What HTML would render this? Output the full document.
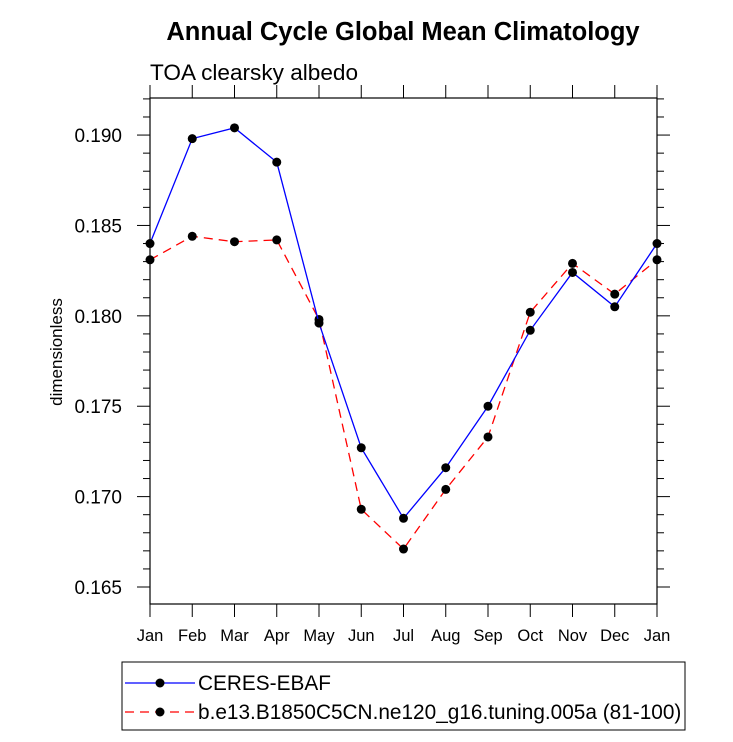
<!DOCTYPE html>
<html><head><meta charset="utf-8"><style>
body{margin:0;background:#fff;}
svg text{font-family:"Liberation Sans",Arial,sans-serif;}
</style></head><body>
<svg id="chart" width="733" height="737" viewBox="0 0 733 737">
<text x="403" y="40" font-size="25.5" font-weight="bold" text-anchor="middle">Annual Cycle Global Mean Climatology</text>
<text x="150" y="80" font-size="22.6">TOA clearsky albedo</text>
<text transform="translate(62,352) rotate(-90)" font-size="17" text-anchor="middle">dimensionless</text>
<g id="axes"></g>
<g id="series"></g>
<g>
<rect x="122" y="662" width="563" height="68" fill="none" stroke="#000" stroke-width="1"/>
<line x1="125" y1="683" x2="195" y2="683" stroke="#0000ff" stroke-width="1.3"/>
<circle cx="160" cy="683" r="4.5" fill="#000"/>
<text x="198" y="690" font-size="20.8">CERES-EBAF</text>
<line x1="125" y1="712" x2="195" y2="712" stroke="#ff0000" stroke-width="1.3" stroke-dasharray="9,6"/>
<circle cx="160" cy="712" r="4.5" fill="#000"/>
<text x="198" y="719" font-size="20.8">b.e13.B1850C5CN.ne120_g16.tuning.005a (81-100)</text>
</g>
</svg>
<script>
const months=["Jan","Feb","Mar","Apr","May","Jun","Jul","Aug","Sep","Oct","Nov","Dec","Jan"];
const ceres=[0.1840,0.1898,0.1904,0.1885,0.1796,0.1727,0.1688,0.1716,0.1750,0.1792,0.1824,0.1805,0.1840];
const model=[0.1831,0.1844,0.1841,0.1842,0.1798,0.1693,0.1671,0.1704,0.1733,0.1802,0.1829,0.1812,0.1831];
const yTicks=["0.165","0.170","0.175","0.180","0.185","0.190"];
const L=150,R=657,T=98,B=604,Y0=0.16406,Y1=0.19205;
const xs=i=>L+(R-L)*i/12;
const ys=v=>B-(v-Y0)/(Y1-Y0)*(B-T);
const NS="http://www.w3.org/2000/svg";
function mk(tag,attrs,parent){const e=document.createElementNS(NS,tag);for(const k in attrs)e.setAttribute(k,attrs[k]);parent.appendChild(e);return e;}
const ax=document.getElementById('axes');
const frame=mk('rect',{x:L,y:T,width:R-L,height:B-T,fill:'none',stroke:'#000','stroke-width':1.2},ax);


for(let i=0;i<months.length;i++){
  const x=xs(i);
  mk('line',{x1:x,y1:B,x2:x,y2:B+13,stroke:'#000'},ax);
  mk('line',{x1:x,y1:T,x2:x,y2:T-13,stroke:'#000'},ax);
  const t=mk('text',{x:x,y:B+37,'font-size':16.5,'text-anchor':'middle'},ax);
  t.textContent=months[i];
  
  
}
for(let k=164;k<=192;k++){
  const v=k/1000;if(v<Y0||v>Y1+1e-9)continue;
  const y=ys(v),major=(k%5===0),len=major?13:7;
  mk('line',{x1:L,y1:y,x2:L-len,y2:y,stroke:'#000'},ax);
  mk('line',{x1:R,y1:y,x2:R+len,y2:y,stroke:'#000'},ax);
}
yTicks.forEach(s=>{
  const t=mk('text',{x:L-28,y:ys(parseFloat(s))+7,'font-size':19,'text-anchor':'end'},ax);
  t.textContent=s;
  
  
});
const sg=document.getElementById('series');
function draw(vals,color,dash,name){
  const g=mk('g',{},sg);
  
  
  const pts=vals.map((v,i)=>xs(i)+','+ys(v)).join(' ');
  const a={points:pts,fill:'none',stroke:color,'stroke-width':1.3};
  if(dash)a['stroke-dasharray']=dash;
  mk('polyline',a,g);
  vals.forEach((v,i)=>{
    const c=mk('circle',{cx:xs(i),cy:ys(v),r:4.5,fill:'#000'},g);
    
    
  });
}
draw(model,'#ff0000','9,6','series-model');
draw(ceres,'#0000ff',null,'series-ceres');
</script>
</body></html>
